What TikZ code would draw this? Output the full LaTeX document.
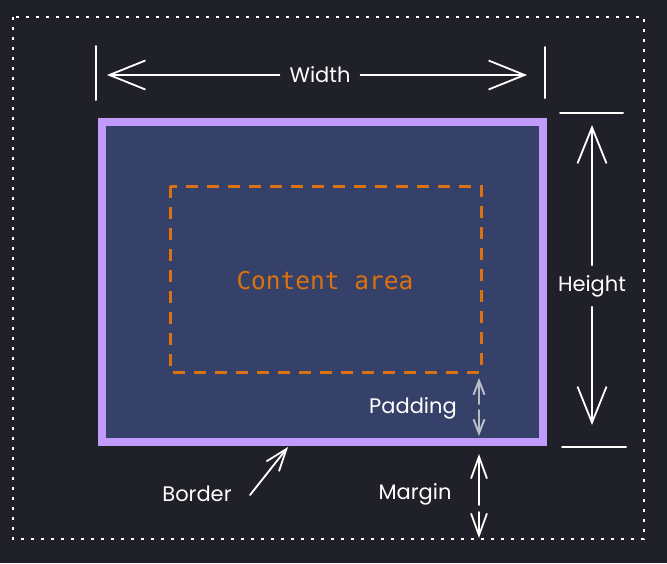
\documentclass[tikz,border=0pt]{standalone}
\usepackage{fontspec}
\setmainfont{Poppins}
\setmonofont{DejaVu Sans Mono}
\usetikzlibrary{arrows.meta}
\definecolor{bg}{HTML}{1F2028}
\definecolor{boxbg}{HTML}{364169}
\definecolor{text}{HTML}{FFFFFF}
\definecolor{muted}{HTML}{B9BDC5}
\definecolor{lilac}{HTML}{C09BFC}
\definecolor{amber}{HTML}{DC710F}
\tikzset{
  base/.style={draw=text, line width=1.8pt, line cap=round, line join=round},
  big/.style={base, -{Straight Barb[length=36pt, width=29pt]}},
  mid/.style={base, -{Straight Barb[length=22pt, width=16pt]}},
  small/.style={base, draw=muted, line width=2pt, -{Straight Barb[length=14pt, width=11pt]}},
  tick/.style={base, line width=2pt},
  tag/.style={
    font=\fontsize{21}{25}\selectfont,
    text=text,
    inner sep=1pt,
    outer sep=9pt
  }
}
\begin{document}
\begin{tikzpicture}[x=1pt, y=-1pt]
  \fill[bg] (0,0) rectangle (667,563);
  \draw[draw=text, line width=2pt, dash pattern=on 3pt off 7pt] (13,17) rectangle (644,539);

  \draw[draw=lilac, fill=boxbg, line width=8pt] (102,122) rectangle (543,442);
  \draw[draw=amber, line width=3pt, dash pattern=on 12pt off 9pt] (170,186) rectangle (481,372);
  \node[font=\ttfamily\fontsize{24.5}{28}\selectfont, text=amber] (content) at (325,281) {Content area};

  \draw[tick] (96,46) -- (96,100);
  \draw[tick] (545,47) -- (545,98);
  \coordinate (wleft) at (107,75);
  \coordinate (wright) at (527,75);
  \node[tag] (width) at (320,75) {Width};
  \draw[big] (width) -- (wleft);
  \draw[big] (width) -- (wright);

  \draw[tick] (560,113) -- (623,113);
  \draw[tick] (562,447) -- (626,447);
  \coordinate (htop) at (592,125);
  \coordinate (hbot) at (592,425);
  \node[tag] (height) at (592,286) {Height};
  \draw[big] (height) -- (htop);
  \draw[big] (height) -- (hbot);

  \node[tag] (padding) at (413,408) {Padding};
  \coordinate (pup) at (479,404);
  \coordinate (pdown) at (479,410);
  \coordinate (ptop) at (479,378);
  \coordinate (pbot) at (479,436);
  \draw[small] (pup) -- (ptop);
  \draw[small] (pdown) -- (pbot);

  \node[tag] (margin) at (415,494) {Margin};
  \coordinate (mup) at (479,505);
  \coordinate (mdown) at (479,512);
  \coordinate (mtop) at (479,454);
  \coordinate (mbot) at (479,538);
  \draw[mid] (mup) -- (mtop);
  \draw[mid] (mdown) -- (mbot);

  \node[tag] (border) at (197,494) {Border};
  \coordinate (bfoot) at (250,495);
  \coordinate (btip) at (288,447);
  \draw[mid] (bfoot) -- (btip);
\end{tikzpicture}
\end{document}
